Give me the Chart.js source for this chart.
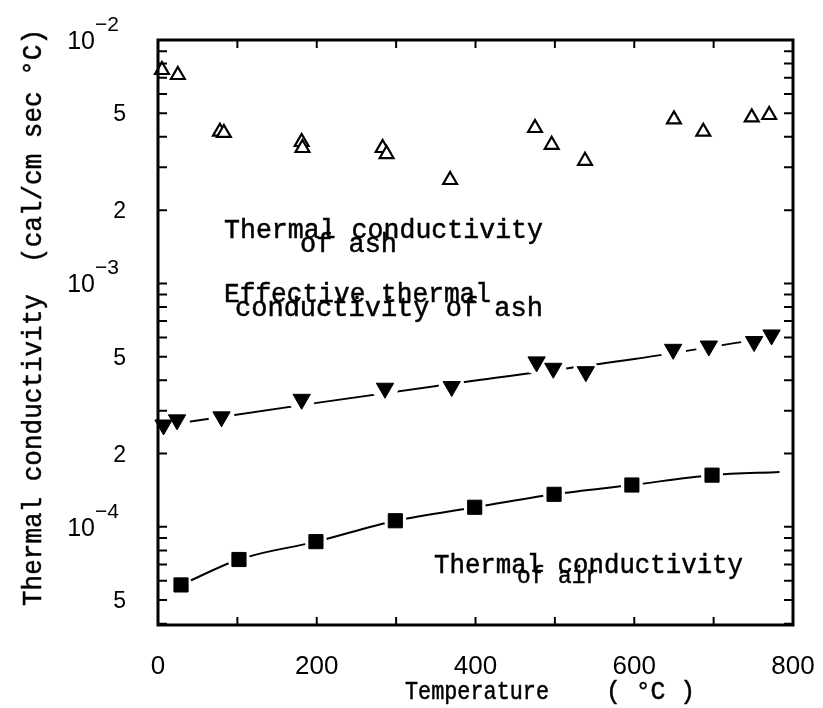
<!DOCTYPE html>
<html>
<head>
<meta charset="utf-8">
<script src="https://cdn.jsdelivr.net/npm/chart.js@4.4.1/dist/chart.umd.min.js"></script>
<style>
  html, body { margin: 0; padding: 0; background: #fff; }
  canvas { display: block; }
</style>
</head>
<body>
<canvas id="kChart" width="823" height="708"></canvas>
<script>
// thermal conductivity of ash (open triangles)
var ashT = [5, 25, 78, 83, 181, 182, 283, 288, 368, 475, 496, 538, 650, 687, 748, 770];
var ashK = [7.53e-3, 7.18e-3, 4.2e-3, 4.15e-3, 3.81e-3, 3.6e-3, 3.6e-3, 3.4e-3, 2.66e-3,
            4.35e-3, 3.71e-3, 3.19e-3, 4.72e-3, 4.2e-3, 4.81e-3, 4.92e-3];

// effective thermal conductivity of ash (filled inverted triangles) + its fitted line
var effT = [7, 24, 80, 181, 286, 370, 477, 498, 539, 649, 694, 751, 773];
var effK = [2.62e-4, 2.75e-4, 2.83e-4, 3.34e-4, 3.71e-4, 3.77e-4, 4.76e-4, 4.48e-4,
            4.34e-4, 5.36e-4, 5.53e-4, 5.77e-4, 6.14e-4];
var effFitT = [0, 200, 400, 600, 775];
var effFitK = [2.59e-4, 3.23e-4, 3.99e-4, 4.89e-4, 6.03e-4];

// thermal conductivity of air (filled squares) + curve
var airT = [29, 102, 199, 299, 399, 499, 597, 698];
var airK = [5.77e-5, 7.34e-5, 8.69e-5, 1.059e-4, 1.203e-4, 1.36e-4, 1.485e-4, 1.63e-4];
var airFitT = [29, 102, 199, 299, 399, 499, 597, 698, 783];
var airFitK = [5.77e-5, 7.34e-5, 8.69e-5, 1.059e-4, 1.203e-4, 1.36e-4, 1.485e-4, 1.63e-4, 1.68e-4];

// axes
var xTicks = [100, 200, 300, 400, 500, 600, 700];
var xLabels = [0, 200, 400, 600, 800];
var yDecades = [1e-4, 1e-3, 1e-2];
var yExponents = ['\u22124', '\u22123', '\u22122'];
var yMidVals = [5e-5, 2e-4, 5e-4, 2e-3, 5e-3];
var yMidLabels = ['5', '2', '5', '2', '5'];

var notes = ['Thermal conductivity', 'of ash', 'Effective thermal', 'conductivity of ash',
             'Thermal conductivity', 'of air'];
var yTitle = 'Thermal conductivity  (cal/cm sec \u00b0C)';
var xTitle = 'Temperature';
var xUnit = '( \u00b0C )';

function pts(xs, ys) {
  return xs.map(function (x, i) { return {x: x, y: ys[i]}; });
}

var MONO = '"Liberation Mono", "Courier New", monospace';
var SANS = '"Liberation Sans", Arial, sans-serif';

// typewriter text stretched to span x0..x1 on the given baseline, slightly emboldened
function fitText(ctx, str, x0, x1, base, size) {
  ctx.font = size + 'px ' + MONO;
  var w = ctx.measureText(str).width;
  ctx.save();
  ctx.translate(x0, base);
  ctx.scale((x1 - x0) / w, 1);
  ctx.textAlign = 'left';
  ctx.textBaseline = 'alphabetic';
  ctx.lineWidth = 0.5;
  ctx.strokeStyle = '#000';
  ctx.fillText(str, 0, 0);
  ctx.strokeText(str, 0, 0);
  ctx.restore();
}

var frame = {
  id: 'frame',
  afterDatasetsDraw: function (chart) {
    var ctx = chart.ctx, a = chart.chartArea;
    var xs = chart.scales.x, ys = chart.scales.y;
    ctx.save();
    ctx.strokeStyle = '#000';
    ctx.lineWidth = 3;
    ctx.strokeRect(a.left, a.top, a.right - a.left, a.bottom - a.top);

    ctx.lineWidth = 2;
    ctx.beginPath();
    xTicks.forEach(function (v) {
      var px = xs.getPixelForValue(v);
      ctx.moveTo(px, a.bottom); ctx.lineTo(px, a.bottom - 8);
      ctx.moveTo(px, a.top); ctx.lineTo(px, a.top + 8);
    });
    for (var e = -5; e <= -3; e++) {
      for (var m = 1; m <= 9; m++) {
        var v = m * Math.pow(10, e);
        if (v < ys.min || v >= ys.max) continue;
        var py = ys.getPixelForValue(v);
        ctx.moveTo(a.left, py); ctx.lineTo(a.left + 9, py);
        ctx.moveTo(a.right, py); ctx.lineTo(a.right - 9, py);
      }
    }
    ctx.stroke();
    ctx.restore();
  },
  afterDraw: function (chart) {
    var ctx = chart.ctx;
    var xs = chart.scales.x, ys = chart.scales.y;
    ctx.save();
    ctx.fillStyle = '#000';
    ctx.textBaseline = 'alphabetic';

    // x tick labels
    ctx.font = '26px ' + SANS;
    ctx.textAlign = 'center';
    xLabels.forEach(function (v) {
      ctx.fillText(String(v), xs.getPixelForValue(v), 674);
    });

    // y tick labels
    ctx.font = '23px ' + SANS;
    ctx.textAlign = 'right';
    yMidVals.forEach(function (v, i) {
      ctx.fillText(yMidLabels[i], 126, ys.getPixelForValue(v) + 8);
    });
    yDecades.forEach(function (v, i) {
      var py = ys.getPixelForValue(v);
      ctx.font = '25px ' + SANS;
      ctx.textAlign = 'right';
      ctx.fillText('10', 95, py + 9);
      ctx.font = '21px ' + SANS;
      ctx.textAlign = 'left';
      ctx.fillText(yExponents[i], 95, py - 9);
    });

    // axis titles
    fitText(ctx, xTitle, 405, 549, 699, 26);
    fitText(ctx, xUnit, 606, 695, 699, 26);
    ctx.save();
    ctx.translate(41, 606);
    ctx.rotate(-Math.PI / 2);
    fitText(ctx, yTitle, 0, 577, 0, 28);
    ctx.restore();

    // curve labels
    fitText(ctx, notes[0], 224, 543, 238, 27);
    fitText(ctx, notes[1], 300, 397, 252, 27);
    fitText(ctx, notes[2], 224, 491, 302, 27);
    fitText(ctx, notes[3], 235, 543, 316, 27);
    fitText(ctx, notes[4], 434, 743, 573, 27);
    fitText(ctx, notes[5], 517, 599, 583, 24);
    ctx.restore();
  }
};

new Chart(document.getElementById('kChart'), {
  type: 'scatter',
  data: {
    datasets: [
      { // open triangles drawn on top
        data: pts(ashT, ashK), pointStyle: 'triangle', pointRadius: 8,
        pointBackgroundColor: '#fff', pointBorderColor: '#000', pointBorderWidth: 2.2,
        showLine: false, clip: false
      },
      {
        data: pts(effT, effK), pointStyle: 'triangle', pointRotation: 180, pointRadius: 10,
        pointBackgroundColor: '#000', pointBorderColor: '#000', pointBorderWidth: 1,
        showLine: false, clip: false
      },
      {
        data: pts(airT, airK), pointStyle: 'rect', pointRadius: 10,
        pointBackgroundColor: '#000', pointBorderColor: '#000', pointBorderWidth: 1,
        showLine: false, clip: false
      },
      { // white halos break the lines around the markers
        data: pts(effT, effK), pointStyle: 'circle', pointRadius: 13,
        pointBackgroundColor: '#fff', pointBorderWidth: 0, showLine: false, clip: false
      },
      {
        data: pts(airT, airK), pointStyle: 'circle', pointRadius: 11,
        pointBackgroundColor: '#fff', pointBorderWidth: 0, showLine: false, clip: false
      },
      {
        data: pts(effFitT, effFitK), showLine: true, pointRadius: 0,
        borderColor: '#000', borderWidth: 2, cubicInterpolationMode: 'monotone'
      },
      {
        data: pts(airFitT, airFitK), showLine: true, pointRadius: 0,
        borderColor: '#000', borderWidth: 2, cubicInterpolationMode: 'monotone'
      }
    ]
  },
  options: {
    responsive: false,
    animation: false,
    layout: { padding: { left: 158, right: 30, top: 40, bottom: 83 } },
    plugins: { legend: { display: false }, tooltip: { enabled: false } },
    scales: {
      x: { type: 'linear', min: 0, max: 800, display: false },
      y: { type: 'logarithmic', min: 3.95e-5, max: 1e-2, display: false }
    }
  },
  plugins: [frame]
});
</script>
</body>
</html>
